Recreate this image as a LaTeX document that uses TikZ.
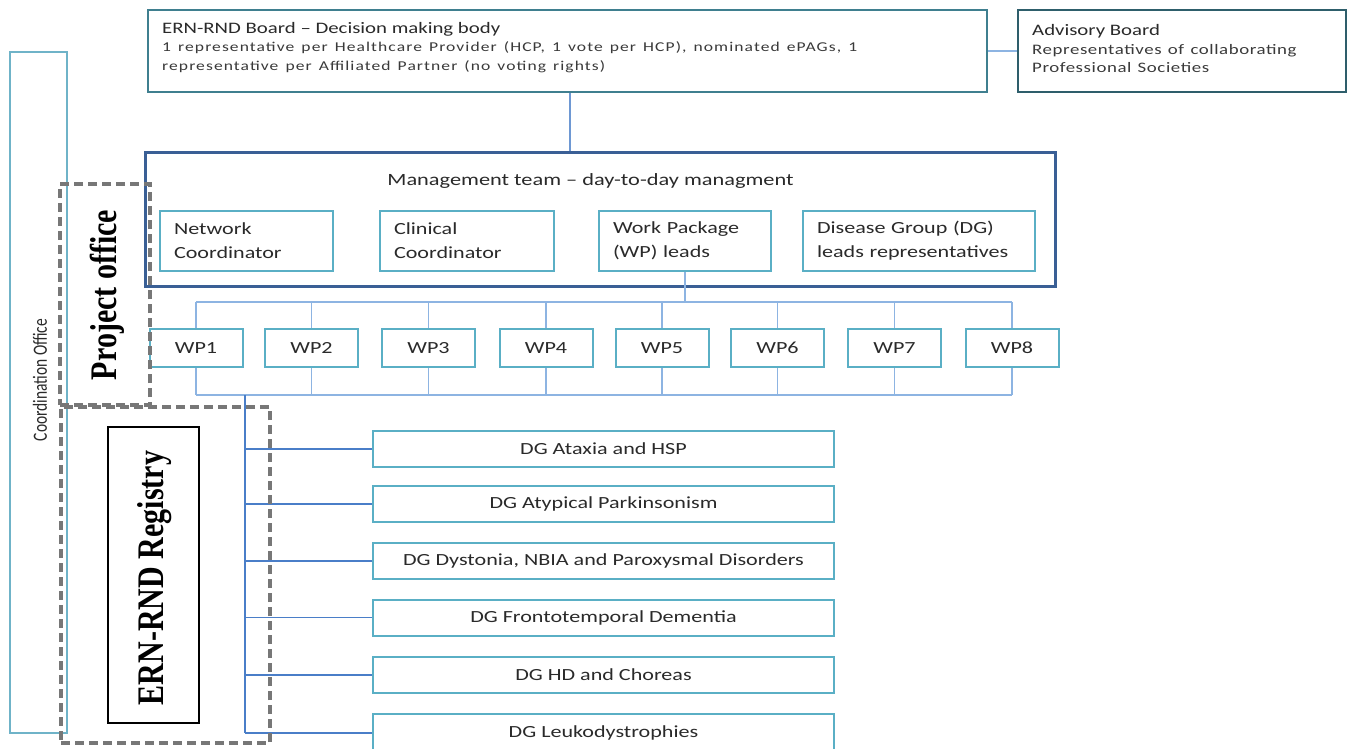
\documentclass[tikz,border=0pt]{standalone}
\usepackage{fontspec}
\setmainfont{Carlito}[FakeStretch=1.3]
\newfontfamily\bodyfont{Carlito}[FakeStretch=1.3, LetterSpace=8, WordSpace=1.4]
\newfontfamily\advfont{Carlito}[FakeStretch=1.3, LetterSpace=4, WordSpace=1.3]
\newfontfamily\serifbf{Liberation Serif}
\newfontfamily\plainsans{Carlito}
\definecolor{boardc}{HTML}{3F7F8F}
\definecolor{advc}{HTML}{2E5E6B}
\definecolor{mgmtc}{HTML}{3A5F95}
\definecolor{tealc}{HTML}{5AAFC5}
\definecolor{busc}{HTML}{8DB4E2}
\definecolor{spinec}{HTML}{4A7EC8}
\definecolor{coordc}{HTML}{6FB3C8}
\definecolor{dashc}{HTML}{777777}
\definecolor{txtc}{HTML}{2A2A2A}
\definecolor{bodyc}{HTML}{3A3A3A}
\begin{document}
\begin{tikzpicture}[x=1pt,y=-1pt,
  every node/.style={text=txtc},
  topbox/.style={draw=boardc, line width=2.2pt, rectangle, inner sep=0pt},
  toptext/.style={anchor=west, inner sep=0pt, align=left},
  tealbox/.style={draw=tealc, line width=2pt, rectangle, inner sep=0pt},
  innerbox/.style={tealbox, minimum height=60pt, align=left, font=\fontsize{17}{24}\selectfont},
  wpbox/.style={tealbox, minimum width=93pt, minimum height=38pt, font=\fontsize{17}{20}\selectfont},
  dgbox/.style={tealbox, minimum width=461pt, minimum height=36pt, font=\fontsize{17}{20}\selectfont},
  bus/.style={draw=busc, line width=1.6pt},
  spine/.style={draw=spinec, line width=1.6pt},
  dashbox/.style={draw=dashc, line width=4.5pt, dash pattern=on 9pt off 5pt, rectangle, inner sep=0pt},
  rotlabel/.style={rotate=90, font=\serifbf\bfseries\fontsize{30}{30}\selectfont, text=black, inner sep=0pt}
]
\useasboundingbox (0,0) rectangle (1352,749);
\clip (0,0) rectangle (1352,749);
\fill[white] (0,0) rectangle (1352,749);

% Coordination office
\node[draw=coordc, line width=2pt, rectangle, inner sep=0pt, minimum width=57pt, minimum height=681pt] (coord) at (38.5,392.5) {};
\node[rotate=90, inner sep=0pt, font=\plainsans\fontsize{15.5}{16}\selectfont] (coordlbl) at (40,380) {\scalebox{1}[1.3]{Coordination Office}};

% Board and advisory
\node[topbox, minimum width=839pt, minimum height=82pt] (board) at (567.5,51) {};
\node[toptext, font=\fontsize{13.5}{18.5}\selectfont] (boardtxt) at (162,47.5)
  {{\fontsize{16}{18.5}\selectfont ERN-RND Board -- Decision making body}\\
   {\bodyfont\color{bodyc}1 representative per Healthcare Provider (HCP, 1 vote per HCP), nominated ePAGs, 1}\\
   {\bodyfont\color{bodyc}representative per Affiliated Partner (no voting rights)}};
\node[topbox, draw=advc, minimum width=328pt, minimum height=82pt] (adv) at (1182,51) {};
\node[toptext, font=\fontsize{14.5}{18.5}\selectfont] (advtxt) at (1032,48.5)
  {{\fontsize{16}{18.5}\selectfont Advisory Board}\\
   {\advfont\color{bodyc}Representatives of collaborating}\\
   {\advfont\color{bodyc}Professional Societies}};
\draw[draw=busc, line width=1.6pt] (board.east) -- (adv.west);

% Management team
\node[draw=mgmtc, line width=3pt, rectangle, inner sep=0pt, minimum width=910pt, minimum height=133pt] (mgmt) at (600,219.5) {};
\node[inner sep=0pt, font=\fontsize{17.2}{20}\selectfont] (mtitle) at (590.5,181) {Management team -- day-to-day managment};
\coordinate (bmx) at (570,0);
\draw[bus, draw=spinec!80] (board.south -| bmx) -- (mgmt.north -| bmx);

\node[innerbox, minimum width=173pt, text width=145pt] (nc) at (246.5,241) {Network\\Coordinator};
\node[innerbox, minimum width=174pt, text width=146pt] (cc) at (467,241) {Clinical\\Coordinator};
\node[innerbox, minimum width=172pt, text width=144pt] (wpl) at (685,241) {Work Package\\(WP) leads};
\node[innerbox, minimum width=232pt, text width=204pt] (dgl) at (919,241) {Disease Group (DG)\\leads representatives};

% Work packages
\foreach \i/\x in {1/196,2/311.5,3/428.5,4/546,5/662,6/777.5,7/894.5,8/1012}
  \node[wpbox] (wp\i) at (\x,348) {WP\i};
\coordinate (tb) at (685,302);
\coordinate (bb) at (245,395);
\draw[bus] (wp1.north |- tb) -- (wp8.north |- tb);
\draw[bus] (wp1.south |- bb) -- (wp8.south |- bb);
\foreach \i in {1,...,8} {
  \draw[bus] (wp\i.north) -- (wp\i.north |- tb);
  \draw[bus] (wp\i.south) -- (wp\i.south |- bb);
}
\draw[bus] (wpl.south) -- (tb);

% Disease groups
\node[dgbox] (dg1) at (603.5,449) {DG Ataxia and HSP};
\node[dgbox] (dg2) at (603.5,504) {DG Atypical Parkinsonism};
\node[dgbox] (dg3) at (603.5,561) {DG Dystonia, NBIA and Paroxysmal Disorders};
\node[dgbox] (dg4) at (603.5,617.5) {DG Frontotemporal Dementia};
\node[dgbox] (dg5) at (603.5,675) {DG HD and Choreas};
\node[dgbox, minimum height=38pt] (dg6) at (603.5,733) {DG Leukodystrophies};
\draw[spine] (bb) -- (bb |- dg6.west);
\foreach \i in {1,...,6}
  \draw[spine] (bb |- dg\i.west) -- (dg\i.west);

% Dashed groups
\node[dashbox, minimum width=90pt, minimum height=221pt] (po) at (105,294.5) {};
\node[rotlabel] (polbl) at (107,295) {\scalebox{1}[1.25]{Project office}};
\node[dashbox, minimum width=209pt, minimum height=336pt] (reg) at (165.5,575) {};
\node[draw=black, line width=2pt, rectangle, inner sep=0pt, minimum width=91pt, minimum height=296pt] (regbox) at (153.5,575) {};
\node[rotlabel] (reglbl) at (155,578) {\scalebox{1}[1.25]{ERN-RND Registry}};
\end{tikzpicture}
\end{document}
